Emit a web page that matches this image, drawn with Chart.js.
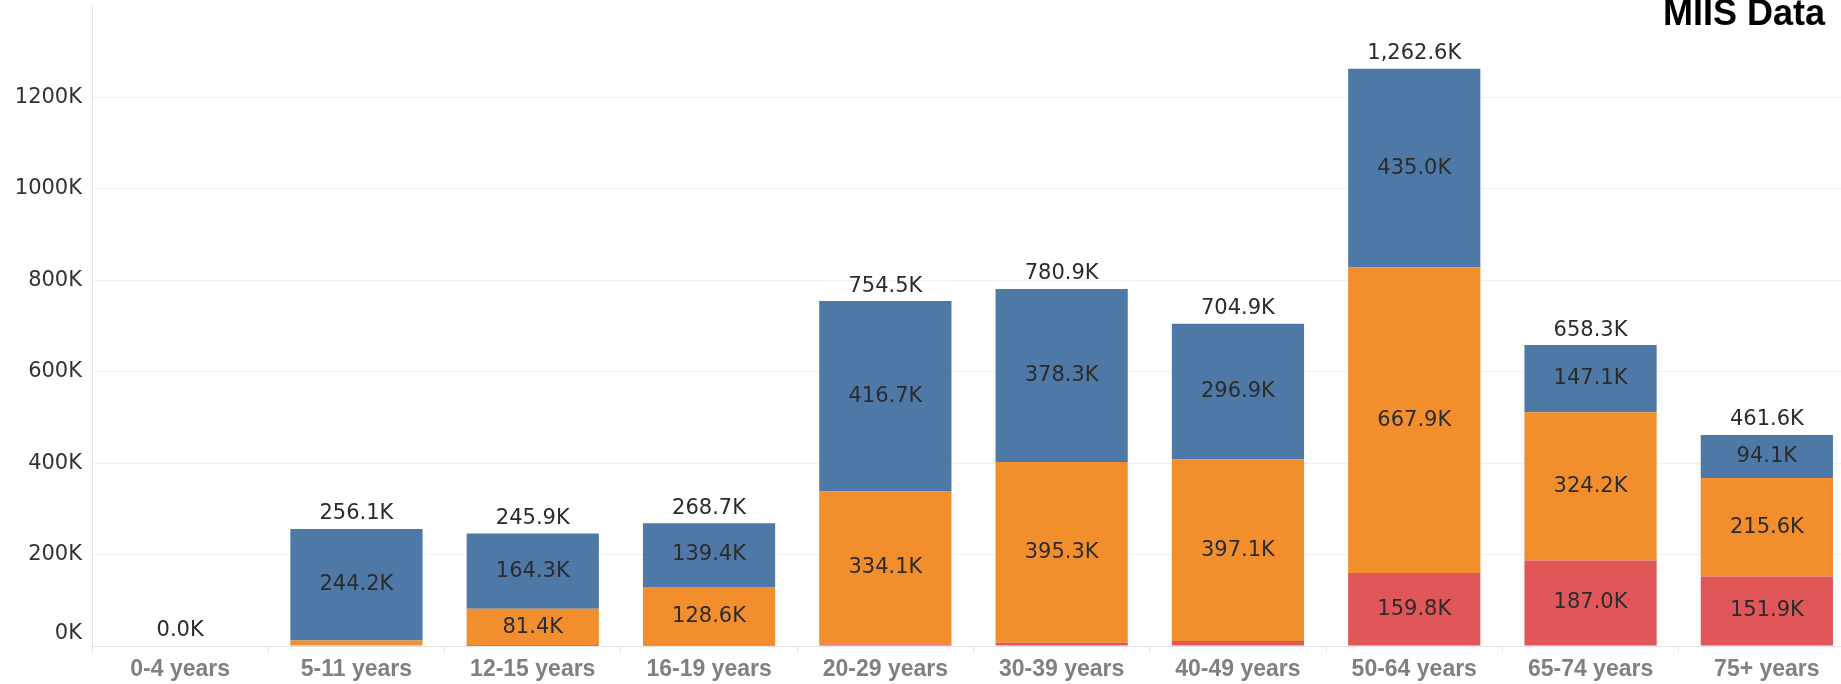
<!DOCTYPE html>
<html>
<head>
<meta charset="utf-8">
<script src="https://cdn.jsdelivr.net/npm/chart.js@4.4.1/dist/chart.umd.min.js"></script>
<style>
html, body { margin: 0; padding: 0; background: #fff; overflow: hidden; }
#wrap { position: relative; width: 1841px; height: 684px; overflow: hidden; }
#title {
    position: absolute; right: 16px; top: -5px;
    font: bold 36px "Liberation Sans", Arial, sans-serif; line-height: 36px; color: #000;
}
</style>
</head>
<body>
<div id="wrap">
<canvas id="miisChart" width="1858" height="684" style="width:1858px;height:684px"></canvas>
<div id="title">MIIS Data</div>
</div>
<script>
var ageGroups = ["0-4 years", "5-11 years", "12-15 years", "16-19 years", "20-29 years",
    "30-39 years", "40-49 years", "50-64 years", "65-74 years", "75+ years"];
// values in thousands
var redValues = [0, 0, 0.2, 0.7, 3.7, 7.3, 10.9, 159.8, 187.0, 151.9];
var orangeValues = [0, 11.9, 81.4, 128.6, 334.1, 395.3, 397.1, 667.9, 324.2, 215.6];
var blueValues = [0, 244.2, 164.3, 139.4, 416.7, 378.3, 296.9, 435.0, 147.1, 94.1];
var totals = [0.0, 256.1, 245.9, 268.7, 754.5, 780.9, 704.9, 1262.6, 658.3, 461.6];
var yTicks = [0, 200, 400, 600, 800, 1000, 1200];

function fmtK(v) {
    return v.toLocaleString("en-US", { minimumFractionDigits: 1, maximumFractionDigits: 1 }) + "K";
}

var labelPlugin = {
    id: "barLabels",
    afterDatasetsDraw: function (chart) {
        var ctx = chart.ctx;
        ctx.save();
        ctx.font = '21px "DejaVu Sans"';
        ctx.fillStyle = "#2b2b2b";
        ctx.textAlign = "center";
        ctx.textBaseline = "middle";
        chart.data.datasets.forEach(function (ds, i) {
            chart.getDatasetMeta(i).data.forEach(function (bar, j) {
                if (Math.abs(bar.base - bar.y) > 30) {
                    ctx.fillText(fmtK(ds.data[j]), bar.x, (bar.y + bar.base) / 2);
                }
            });
        });
        var bars = chart.getDatasetMeta(0).data;
        totals.forEach(function (t, j) {
            ctx.fillText(fmtK(t), bars[j].x, chart.scales.y.getPixelForValue(t) - 15);
        });
        ctx.restore();
    }
};

var ctx = document.getElementById("miisChart").getContext("2d");
var myChart = new Chart(ctx, {
    type: "bar",
    data: {
        labels: ageGroups,
        datasets: [
            { label: "Red", data: redValues, backgroundColor: "#e15759" },
            { label: "Orange", data: orangeValues, backgroundColor: "#f28e2b" },
            { label: "Blue", data: blueValues, backgroundColor: "#4e79a7" },
        ],
    },
    options: {
        responsive: false,
        animation: false,
        barPercentage: 0.75,
        categoryPercentage: 1,
        layout: { padding: { top: 0, right: 3, left: 0, bottom: 0 } },
        plugins: { legend: { display: false }, tooltip: { enabled: false } },
        scales: {
            x: {
                stacked: true,
                grid: { offset: true, drawOnChartArea: false, tickLength: 6, color: "#e3e3e3" },
                border: { color: "#e3e3e3" },
                ticks: {
                    color: "#808080",
                    font: { family: "'Liberation Sans', Arial, sans-serif", size: 23, weight: "bold" },
                    padding: 4,
                    maxRotation: 0,
                    autoSkip: false,
                },
                afterFit: function (s) {
                    s.height = 38;
                    s.paddingLeft = 0;
                    s.paddingRight = 0;
                },
            },
            y: {
                stacked: true,
                min: 0,
                max: 1400,
                afterBuildTicks: function (s) {
                    s.ticks = yTicks.map(function (v) { return { value: v }; });
                },
                ticks: {
                    padding: 10,
                    color: "#333",
                    font: { family: "'DejaVu Sans'", size: 21 },
                    callback: function (v) { return v === 0 ? ["0K", ""] : v + "K"; },
                },
                grid: { drawTicks: false, color: "#efefef" },
                border: { color: "#e3e3e3" },
                afterFit: function (s) {
                    s.width = 92;
                    s.paddingTop = 6;
                    s.paddingBottom = 0;
                },
            },
        },
    },
    plugins: [labelPlugin],
});
</script>
</body>
</html>
